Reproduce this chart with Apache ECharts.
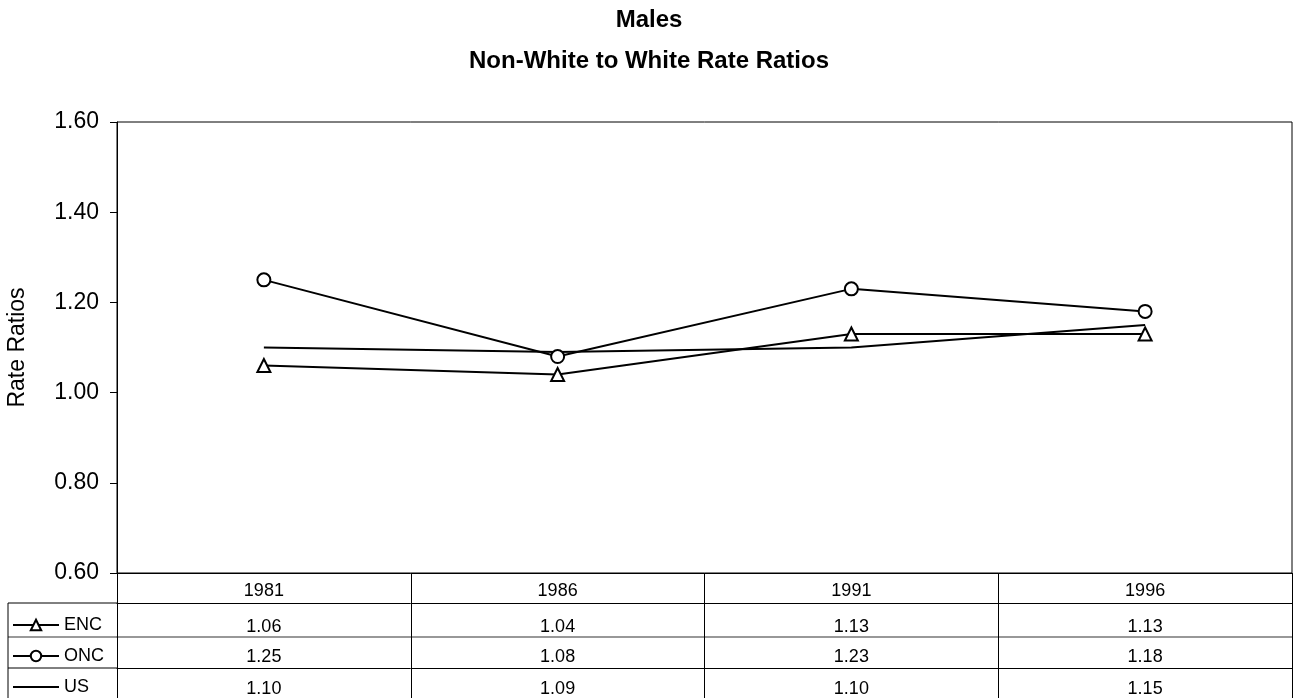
<!DOCTYPE html>
<html>
<head>
<meta charset="utf-8">
<title>Males – Non-White to White Rate Ratios</title>
<script src="https://cdn.jsdelivr.net/npm/echarts@6/dist/echarts.min.js"></script>
<style>
  html, body { margin: 0; padding: 0; background: #fff; }
  #chart { width: 1298px; height: 698px; }
</style>
</head>
<body>
<div id="chart"></div>
<script>
// Census years along the category axis
const years = ['1981', '1986', '1991', '1996'];

// Non-white to white rate ratios, males
const encValues = [1.06, 1.04, 1.13, 1.13];
const oncValues = [1.25, 1.08, 1.23, 1.18];
const usValues  = [1.10, 1.09, 1.10, 1.15];

const seriesNames = ['ENC', 'ONC', 'US'];
const seriesValues = [encValues, oncValues, usValues];

// Value axis range
const yMin = 0.6, yMax = 1.6, yStep = 0.2;

const FONT = '"Liberation Sans", Arial, sans-serif';

// Plot and data-table geometry
const gridLeft = 117, gridRight = 6, gridTop = 122, gridBottom = 125;
const rowOffsets = [30, 64, 95];      // table row lines below the plot
const rowLabelMargins = [15, 11, 12];
const rowLineColors = ['#000', '#777', '#000'];
const plotBottomY = 698 - gridBottom;
const legendLeftX = 8;
const tableFontSize = 18;

const chart = echarts.init(document.getElementById('chart'), null, { renderer: 'canvas' });

const symbolFor = { ENC: 'triangle', ONC: 'circle', US: 'none' };

const series = seriesNames.map((name, i) => ({
  name,
  type: 'line',
  xAxisIndex: 0,
  yAxisIndex: 0,
  data: seriesValues[i],
  symbol: symbolFor[name],
  symbolSize: 13,
  showSymbol: name !== 'US',
  lineStyle: { color: '#000', width: 2 },
  itemStyle: { color: '#fff', borderColor: '#000', borderWidth: 2 },
  emphasis: { disabled: true },
  animation: false,
  z: 3
}));

// Data-table rows: one extra category axis per series, sharing the plot's x scale
const tableAxes = seriesValues.map((vals, i) => ({
  type: 'category',
  data: years,
  gridIndex: 0,
  position: 'bottom',
  offset: rowOffsets[i],
  boundaryGap: true,
  axisLine: { show: true, lineStyle: { color: rowLineColors[i], width: i === 1 ? 1.5 : 1 } },
  axisTick: { show: false },
  axisLabel: {
    show: true,
    margin: rowLabelMargins[i],
    fontSize: tableFontSize,
    fontFamily: FONT,
    color: '#000',
    formatter: (v, idx) => vals[idx].toFixed(2)
  },
  splitLine: { show: false }
}));

// Left column borders of the data table (beside the legend keys)
const rowLineYs = rowOffsets.map(o => plotBottomY + o);
const legendCellLines = rowLineYs.map((y, i) => ({
  type: 'line',
  shape: { x1: legendLeftX, y1: y, x2: gridLeft, y2: y },
  style: { stroke: rowLineColors[i], lineWidth: i === 1 ? 1.5 : 1 },
  silent: true
}));
legendCellLines.push({
  type: 'line',
  shape: { x1: legendLeftX, y1: rowLineYs[0], x2: legendLeftX, y2: 698 },
  style: { stroke: '#000', lineWidth: 1 },
  silent: true
});

// Legend keys: the US line has no marker
const legendData = seriesNames.map(name => name === 'US'
  ? { name, itemStyle: { color: 'rgba(0,0,0,0)', borderColor: 'rgba(0,0,0,0)', borderWidth: 0 } }
  : { name });

const titleStyle = {
  fontFamily: FONT,
  fontSize: 24,
  fontWeight: 'bold',
  color: '#000',
  lineHeight: 24
};

const option = {
  backgroundColor: '#fff',
  animation: false,
  title: [
    { text: 'Males', left: 'center', top: 8, padding: 0, textStyle: titleStyle },
    { text: 'Non-White to White Rate Ratios', left: 'center', top: 49, padding: 0, textStyle: titleStyle }
  ],
  legend: {
    orient: 'vertical',
    left: 12,
    top: 616,
    itemGap: 13,
    itemWidth: 46,
    itemHeight: 13,
    padding: 0,
    selectedMode: false,
    data: legendData,
    textStyle: { fontFamily: FONT, fontSize: tableFontSize, lineHeight: 18, color: '#000' }
  },
  grid: {
    left: gridLeft,
    right: gridRight,
    top: gridTop,
    bottom: gridBottom,
    outerBoundsMode: 'none',
    containLabel: false,
    show: true,
    borderColor: '#000',
    borderWidth: 1,
    backgroundColor: '#fff'
  },
  xAxis: [
    {
      type: 'category',
      data: years,
      gridIndex: 0,
      position: 'bottom',
      boundaryGap: true,
      axisLine: { show: true, lineStyle: { color: '#000', width: 1 } },
      axisTick: {
        show: true,
        inside: false,
        length: gridBottom,
        alignWithLabel: false,
        lineStyle: { color: '#000', width: 1 }
      },
      axisLabel: { margin: 9, fontSize: tableFontSize, fontFamily: FONT, color: '#000' },
      splitLine: { show: false }
    },
    ...tableAxes
  ],
  yAxis: {
    type: 'value',
    min: yMin,
    max: yMax,
    interval: yStep,
    name: 'Rate Ratios',
    nameLocation: 'middle',
    nameRotate: 90,
    nameGap: 88,
    nameTextStyle: { fontFamily: FONT, fontSize: 23, color: '#000' },
    axisLine: { show: true, lineStyle: { color: '#000', width: 1 } },
    axisTick: { show: true, inside: false, length: 7, lineStyle: { color: '#000' } },
    axisLabel: {
      margin: 18,
      fontSize: 23,
      fontFamily: FONT,
      color: '#000',
      formatter: v => v.toFixed(2)
    },
    splitLine: { show: false }
  },
  graphic: legendCellLines,
  series
};

chart.setOption(option);
</script>
</body>
</html>
